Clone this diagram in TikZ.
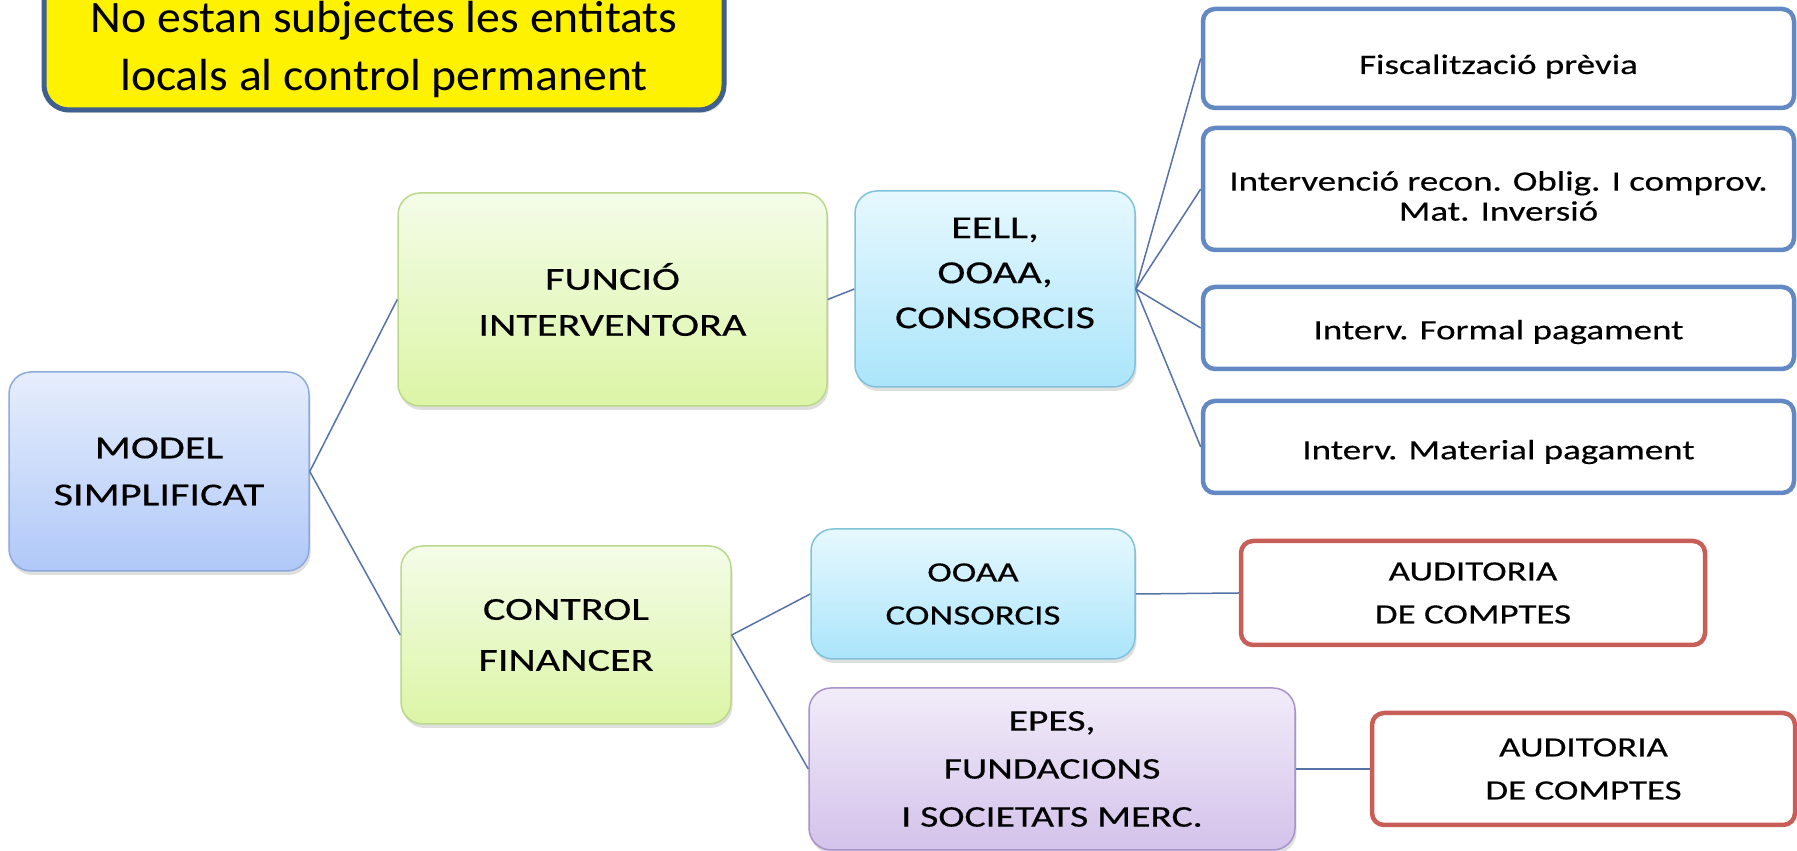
\documentclass[tikz,border=0pt]{standalone}
\usepackage{fontspec}
\setmainfont{Carlito}
\newfontfamily\wide[FakeStretch=1.32,FakeBold=0.4]{Carlito}
\newfontfamily\notefont[FakeStretch=1.06]{Carlito}
\usetikzlibrary{shadows}
\definecolor{modelT}{HTML}{E6EEFC}
\definecolor{modelBot}{HTML}{B0C8F8}
\definecolor{modelB}{HTML}{8EA9DB}
\definecolor{greenT}{HTML}{F4FCE8}
\definecolor{greenBot}{HTML}{DCF5A6}
\definecolor{greenB}{HTML}{BBD88A}
\definecolor{cyanT}{HTML}{E6F8FE}
\definecolor{cyanBot}{HTML}{ABE5FB}
\definecolor{cyanB}{HTML}{7FC2DA}
\definecolor{purT}{HTML}{F2ECF9}
\definecolor{purBot}{HTML}{D3C2EB}
\definecolor{purB}{HTML}{A892C9}
\definecolor{blueB}{HTML}{6389C4}
\definecolor{redB}{HTML}{C85E58}
\definecolor{yelB}{HTML}{3F5F8F}
\definecolor{connC}{HTML}{5673A8}
\tikzset{
  gbox/.style={rounded corners=22pt, line width=1.5pt, align=center, inner sep=0pt,
    drop shadow={opacity=0.25, shadow xshift=1.5pt, shadow yshift=-4pt}},
  modelbox/.style={gbox, draw=modelB, top color=modelT, bottom color=modelBot},
  greenbox/.style={gbox, draw=greenB, top color=greenT, bottom color=greenBot},
  cyanbox/.style={gbox, draw=cyanB, top color=cyanT, bottom color=cyanBot},
  purbox/.style={gbox, draw=purB, top color=purT, bottom color=purBot},
  bluebox/.style={rounded corners=12pt, draw=blueB, line width=4.5pt, fill=white,
    inner sep=0pt, minimum width=591pt},
  btext/.style={align=center, inner sep=0pt, font={\wide\fontsize{28}{30}\selectfont}},
  redbox/.style={rounded corners=12pt, draw=redB, line width=4.5pt, fill=white, align=center,
    inner sep=0pt, font={\wide\fontsize{28}{43}\selectfont}},
  conn/.style={draw=connC, line width=1.5pt},
}
\begin{document}
\begin{tikzpicture}[x=1pt,y=1pt]
\useasboundingbox (0,0) rectangle (1797,851);
% yellow note
\node[rounded corners=25pt, draw=yelB, line width=5pt, fill=yellow,
  minimum width=680pt, minimum height=140pt, inner sep=0pt,
  drop shadow={opacity=0.3, shadow xshift=2pt, shadow yshift=-3pt},
  label={[align=center, inner sep=0pt, yshift=-9.5pt, font={\notefont\fontsize{45}{58}\selectfont}]center:No estan subjectes les entitats\\locals al control permanent}]
  (note) at (384,811) {};
% main boxes
\node[modelbox, minimum width=300pt, minimum height=199pt, font={\wide\fontsize{32}{47}\selectfont}]
  (model) at (159,379.5) {MODEL\\SIMPLIFICAT};
\node[greenbox, minimum width=429pt, minimum height=213pt, font={\wide\fontsize{32}{46}\selectfont}]
  (funcio) at (612.5,551.5) {FUNCIÓ\\INTERVENTORA};
\node[cyanbox, minimum width=280pt, minimum height=196pt,
  label={[align=center, inner sep=0pt, yshift=16pt, font={\wide\fontsize{32}{45}\selectfont}]center:EELL,\\OOAA,\\CONSORCIS}]
  (eell) at (995,562) {};
\node[greenbox, minimum width=330pt, minimum height=178pt, font={\wide\fontsize{32}{51}\selectfont}]
  (control) at (566,216) {CONTROL\\FINANCER};
\node[cyanbox, minimum width=324pt, minimum height=130pt, font={\wide\fontsize{28}{43}\selectfont}]
  (ooaa) at (973,257) {OOAA\\CONSORCIS};
\node[purbox, minimum width=486pt, minimum height=162pt, font={\wide\fontsize{30}{48}\selectfont}]
  (epes) at (1052,82) {EPES,\\FUNDACIONS\\I SOCIETATS MERC.};
% right boxes
\node[bluebox, minimum height=99pt, label={[btext, yshift=-8pt]center:Fiscalització prèvia}]
  (fisc) at (1498.5,792.5) {};
\node[bluebox, minimum height=122pt, label={[btext, yshift=-7pt]center:Intervenció recon. Oblig. I comprov.\\Mat. Inversió}]
  (interv) at (1498.5,662) {};
\node[bluebox, minimum height=82pt, label={[btext, yshift=-4pt]center:Interv. Formal pagament}]
  (formal) at (1498.5,523) {};
\node[bluebox, minimum height=92pt, label={[btext, yshift=-5pt]center:Interv. Material pagament}]
  (material) at (1498.5,404) {};
\node[redbox, minimum width=464pt, minimum height=104pt] (aud1) at (1473,258) {AUDITORIA\\DE COMPTES};
\node[redbox, minimum width=423pt, minimum height=112pt] (aud2) at (1583.5,82) {AUDITORIA\\DE COMPTES};
% connectors
\draw[conn] (model.east) -- (funcio.west);
\draw[conn] (model.east) -- (control.west);
\draw[conn] (funcio.east) -- (eell.west);
\draw[conn] (eell.east) -- (fisc.west);
\draw[conn] (eell.east) -- (interv.west);
\draw[conn] (eell.east) -- (formal.west);
\draw[conn] (eell.east) -- (material.west);
\draw[conn] (control.east) -- (ooaa.west);
\draw[conn] (control.east) -- (epes.west);
\draw[conn] (ooaa.east) -- (aud1.west);
\draw[conn] (epes.east) -- (aud2.west);
\end{tikzpicture}
\end{document}
